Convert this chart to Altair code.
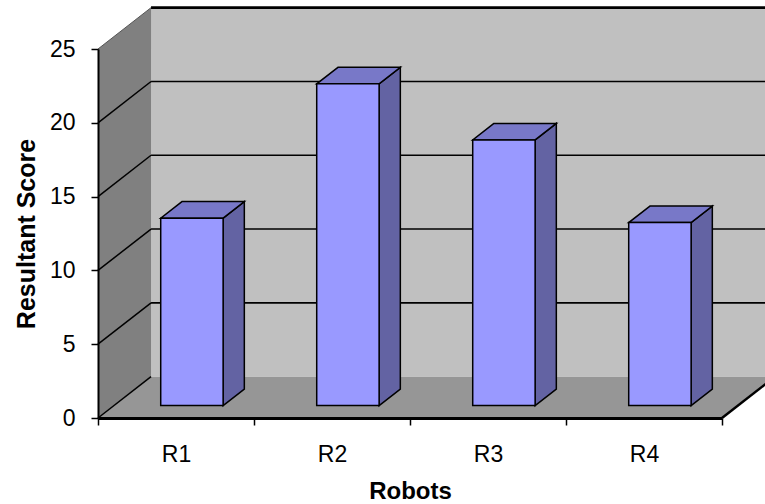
import json
import altair as alt
import pandas as pd

# ---- data ----
robots = ["R1", "R2", "R3", "R4"]
scores = [12.7, 21.8, 18.0, 12.4]
y_ticks = [0, 5, 10, 15, 20, 25]

# ---- pseudo-3D geometry (in data units) ----
DX = 0.34   # depth shift along the category axis
DY = 2.8    # depth shift along the score axis
F = 0.3     # bar front face at this fraction of the depth
D = 0.4     # bar depth as fraction of the full depth
HW = 0.2    # half bar width (category units)
N = len(robots)
YMAX = y_ticks[-1]
FONT = "Liberation Sans"

front_rows, top_rows, side_rows = [], [], []
for i, (r, v) in enumerate(zip(robots, scores)):
    c = i + 0.5 + F * DX
    front_rows.append(dict(robot=r, x=c - HW, x2=c + HW, y=F * DY, y2=v + F * DY))
    top_rows += [
        dict(robot=r, y=v + F * DY, x=c - HW, x2=c + HW),
        dict(robot=r, y=v + (F + D) * DY, x=c - HW + D * DX, x2=c + HW + D * DX),
    ]
    side_rows += [
        dict(robot=r, x=c + HW, y=F * DY, y2=v + F * DY),
        dict(robot=r, x=c + HW + D * DX, y=(F + D) * DY, y2=v + (F + D) * DY),
    ]

front_df = pd.DataFrame(front_rows)
top_df = pd.DataFrame(top_rows)
side_df = pd.DataFrame(side_rows)

back_df = pd.DataFrame([dict(x=DX, x2=N + DX + 0.5, y=DY, y2=YMAX + DY)])
left_df = pd.DataFrame([dict(x=0, y=0, y2=YMAX), dict(x=DX, y=DY, y2=YMAX + DY)])
floor_df = pd.DataFrame([dict(y=0, x=0, x2=N), dict(y=DY, x=DX, x2=N + DX)])
back_grid_df = pd.DataFrame([dict(x=DX, x2=N + DX + 0.5, y=k + DY) for k in y_ticks[1:-1]])
top_edge_df = pd.DataFrame([dict(x=DX, x2=N + DX + 0.5, y=YMAX + DY)])
left_grid_df = pd.DataFrame([dict(x=0, x2=DX, y=k, y2=k + DY) for k in y_ticks[:-1]])
left_top_df = pd.DataFrame([dict(x=0, x2=DX, y=YMAX, y2=YMAX + DY)])
floor_edge_df = pd.DataFrame([dict(x=N, x2=N + DX, y=0, y2=DY)])

xs = alt.Scale(domain=[0, N], nice=False, zero=False)
ys = alt.Scale(domain=[0, YMAX], nice=False, zero=False)

X_AXIS = alt.Axis(
    values=[k / 2 for k in range(2 * N + 1)],
    labelExpr=f"datum.value % 1 === 0 ? '' : {json.dumps(robots)}[floor(datum.value)]",
    tickOpacity={"condition": {"test": "datum.value % 1 === 0", "value": 1}, "value": 0},
    title="Robots",
    titleFontSize=24,
    titleFontWeight="bold",
    titlePadding=13,
    labelFontSize=23,
    labelPadding=18,
    labelOverlap=False,
    labelFlush=False,
    labelBound=False,
    tickSize=7,
    tickWidth=1.5,
    tickColor="black",
    domainColor="black",
    domainWidth=3,
    grid=False,
    zindex=1,
    labelColor="black",
    titleColor="black",
)
Y_AXIS = alt.Axis(
    values=y_ticks,
    title="Resultant Score",
    titleFontSize=25,
    titleFontWeight="bold",
    titlePadding=10,
    labelFontSize=23,
    labelPadding=16,
    tickSize=7,
    tickWidth=1.5,
    tickColor="black",
    domainColor="black",
    domainWidth=2,
    grid=False,
    zindex=1,
    labelColor="black",
    titleColor="black",
)


def X(f="x"):
    return alt.X(f"{f}:Q", scale=xs, axis=X_AXIS)


def Y(f="y"):
    return alt.Y(f"{f}:Q", scale=ys, axis=Y_AXIS)


back = alt.Chart(back_df).mark_rect(color="#C0C0C0").encode(
    x=X(), x2="x2:Q", y=Y(), y2="y2:Q")
left = alt.Chart(left_df).mark_area(color="#808080", orient="vertical").encode(
    x=X(), y=Y(), y2="y2:Q")
floor = alt.Chart(floor_df).mark_area(color="#969696", orient="horizontal").encode(
    y=Y(), x=X(), x2="x2:Q")
back_grid = alt.Chart(back_grid_df).mark_rule(color="black", strokeWidth=1.6).encode(
    x=X(), x2="x2:Q", y=Y())
top_edge = alt.Chart(top_edge_df).mark_rule(color="black", strokeWidth=2.6).encode(
    x=X(), x2="x2:Q", y=Y())
left_grid = alt.Chart(left_grid_df).mark_rule(color="black", strokeWidth=1.5).encode(
    x=X(), x2="x2:Q", y=Y(), y2="y2:Q")
left_top = alt.Chart(left_top_df).mark_rule(color="#555555", strokeWidth=1).encode(
    x=X(), x2="x2:Q", y=Y(), y2="y2:Q")
floor_edge = alt.Chart(floor_edge_df).mark_rule(color="black", strokeWidth=2.5).encode(
    x=X(), x2="x2:Q", y=Y(), y2="y2:Q")

side = alt.Chart(side_df).mark_area(
    color="#6363A3", orient="vertical", stroke="black", strokeWidth=1.5, strokeJoin="miter"
).encode(x=X(), y=Y(), y2="y2:Q", detail="robot:N")
top = alt.Chart(top_df).mark_area(
    color="#7878C8", orient="horizontal", stroke="black", strokeWidth=1.5, strokeJoin="miter"
).encode(y=Y(), x=X(), x2="x2:Q", detail="robot:N")
front = alt.Chart(front_df).mark_rect(
    color="#9999FF", stroke="black", strokeWidth=1.5
).encode(x=X(), x2="x2:Q", y=Y(), y2="y2:Q")

chart = alt.layer(
    back, left, floor, back_grid, top_edge, left_grid, left_top, floor_edge,
    side, top, front
).properties(
    width=624,
    height=369,
    autosize=alt.AutoSizeParams(type="none"),
    padding={"left": 98, "top": 49, "right": 43, "bottom": 86},
    background="white",
).configure_view(
    stroke=None
).configure_axis(
    labelFont=FONT, titleFont=FONT
)

chart.save("out.html", embed_options={"renderer": "svg", "actions": False})
